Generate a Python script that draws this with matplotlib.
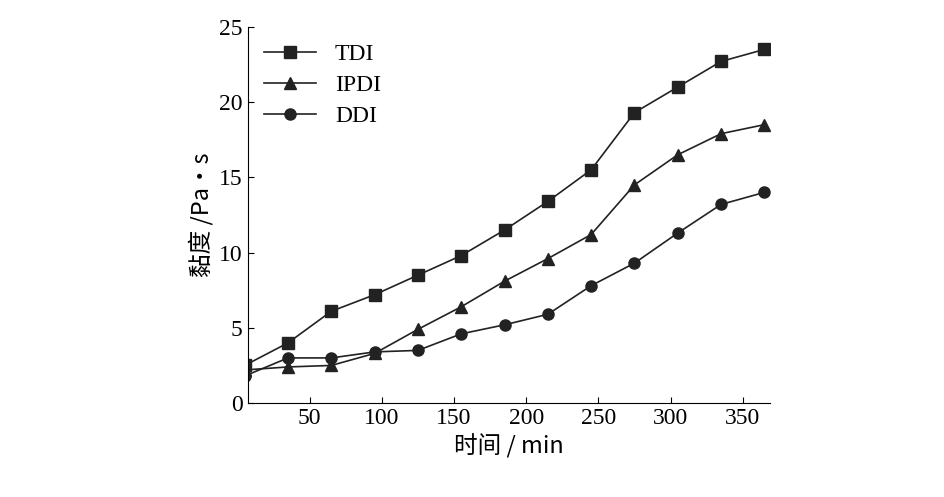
import matplotlib.pyplot as plt

time_min = [5, 35, 65, 95, 125, 155, 185, 215, 245, 275, 305, 335, 365]
tdi = [2.5, 4.0, 6.1, 7.2, 8.5, 9.8, 11.5, 13.4, 15.5, 19.3, 21.0, 22.7, 23.5]
ipdi = [2.2, 2.4, 2.5, 3.3, 4.9, 6.4, 8.1, 9.6, 11.2, 14.5, 16.5, 17.9, 18.5]
ddi = [1.8, 3.0, 3.0, 3.4, 3.5, 4.6, 5.2, 5.9, 7.8, 9.3, 11.3, 13.2, 14.0]

serif = 'Liberation Serif'
cjk = 'Noto Sans CJK SC'

fig = plt.figure(figsize=(9.45, 4.97), dpi=100)
ax = fig.add_axes([0.262, 0.189, 0.553, 0.757])

ax.plot(time_min, tdi, 's-', color='#222', lw=1.2, ms=8, label='TDI')
ax.plot(time_min, ipdi, '^-', color='#222', lw=1.2, ms=8, label='IPDI')
ax.plot(time_min, ddi, 'o-', color='#222', lw=1.2, ms=8, label='DDI')

ax.set_xlim(7, 369)
ax.set_ylim(0, 25)
ax.set_xticks([50, 100, 150, 200, 250, 300, 350])
ax.set_yticks([0, 5, 10, 15, 20, 25])
ax.tick_params(direction='in', labelsize=17, length=4)
for lbl in ax.get_xticklabels() + ax.get_yticklabels():
    lbl.set_fontfamily(serif)
ax.spines['top'].set_visible(False)
ax.spines['right'].set_visible(False)

ax.set_xlabel('时间 / min', fontsize=17, fontfamily=[cjk])
ax.set_ylabel('黏度 /Pa·s', fontsize=17, fontfamily=[cjk])

leg = ax.legend(loc='upper left', frameon=False, prop={'family': serif, 'size': 17},
                handlelength=2.2, borderaxespad=0.3, labelspacing=0.4)

fig.savefig('out.png', dpi=100)
